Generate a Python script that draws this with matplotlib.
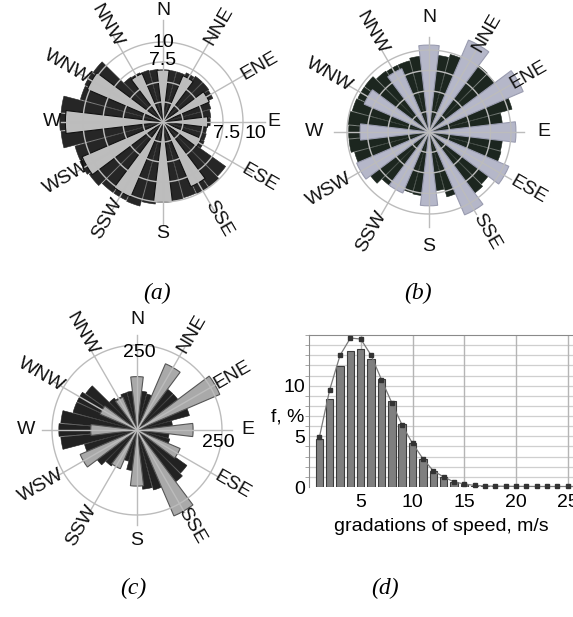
import numpy as np
import matplotlib
matplotlib.use("Agg")
import matplotlib.pyplot as plt

plt.rcParams['font.family'] = ['Liberation Sans', 'DejaVu Sans']

# 36 sectors of 10 degrees for the dark bars, 12 directions of 30 degrees for the light bars
sectors = np.arange(0, 360, 10)
names = ['N', 'NNE', 'ENE', 'E', 'ESE', 'SSE', 'S', 'SSW', 'WSW', 'W', 'WNW', 'NNW']
main_dirs = np.arange(0, 360, 30)

# (a)
a_dark = [6.4, 6.5, 6.5, 6.8, 7.0, 7.0, 6.9, 6.2, 6.0, 5.9, 5.5, 5.6,
          5.7, 9.6, 9.9, 9.9, 9.8, 9.9, 10.0, 10.3, 10.9, 10.8, 10.8, 11.3,
          11.5, 11.4, 12.8, 12.9, 12.8, 10.7, 10.8, 10.7, 6.9, 6.8, 6.7, 6.6]
a_light = [6.5, 6.3, 6.3, 5.6, 5.2, 8.8, 10.0, 10.2, 11.0, 12.2, 10.3, 6.6]

# (b)
b_dark = [9.5, 9.4, 9.8, 10.0, 10.1, 10.0, 10.2, 10.5, 9.0, 9.2, 9.0, 9.1,
          9.3, 9.0, 9.3, 9.0, 8.2, 7.2, 7.5, 7.8, 7.7, 7.5, 8.1, 8.9,
          9.2, 9.4, 9.8, 9.8, 9.9, 9.7, 9.6, 9.6, 9.1, 9.0, 9.0, 9.3]
b_light = [10.6, 12.2, 12.5, 10.6, 10.6, 11.0, 9.0, 8.1, 9.6, 8.4, 8.6, 8.4]

# (c)
c_dark = [120, 115, 110, 150, 150, 150, 170, 160, 105, 110, 95, 100,
          120, 180, 190, 200, 183, 175, 140, 120, 95, 100, 130, 146,
          150, 160, 225, 230, 225, 195, 195, 185, 115, 108, 114, 115]
c_light = [157, 212, 265, 165, 138, 275, 165, 124, 182, 136, 118, 105]

# (d)
speed = np.arange(1, 27)
f_bar = [4.7, 8.7, 11.9, 13.4, 13.6, 12.6, 10.7, 8.5, 6.2, 4.3, 2.8, 1.6, 1.0,
         0.45, 0.25, 0.13, 0.08, 0.05, 0.04, 0.03, 0.02, 0.02, 0.01, 0.01, 0.01, 0.01]
f_line = [4.9, 9.6, 13.0, 14.7, 14.6, 13.0, 10.6, 8.3, 6.1, 4.3, 2.8, 1.6, 1.0,
          0.5, 0.3, 0.15, 0.1, 0.08, 0.07, 0.06, 0.06, 0.05, 0.05, 0.05, 0.05, 0.05]

W, H = 573, 617
fig = plt.figure(figsize=(W / 100, H / 100), dpi=100)
FS = 14


def rose(cx, cy, px_per_unit, rmax, dark, light, rings, line_len, label_r,
         dark_col, light_col, light_edge):
    rad = rmax * px_per_unit
    ax = fig.add_axes([(cx - rad) / W, 1 - (cy + rad) / H, 2 * rad / W, 2 * rad / H],
                      projection='polar')
    ax.set_theta_zero_location('N')
    ax.set_theta_direction(-1)
    ax.set_ylim(0, rmax)
    ax.grid(False)
    ax.set_xticks([])
    ax.set_yticks([])
    ax.spines['polar'].set_visible(False)
    ax.patch.set_alpha(0)

    ax.bar(np.deg2rad(sectors), dark, width=np.deg2rad(9.3), color=dark_col,
           edgecolor=dark_col, linewidth=0.4, zorder=1)
    ax.bar(np.deg2rad(main_dirs), light, width=np.deg2rad(13.5), color=light_col,
           edgecolor=light_edge, linewidth=0.8, zorder=2)

    th = np.linspace(0, 2 * np.pi, 361)
    for r in rings:
        ax.plot(th, np.full_like(th, r), color='#bcbcbc', lw=1.0, zorder=3)
    for d in main_dirs:
        ax.plot([np.deg2rad(d)] * 2, [0, line_len], color='#bcbcbc', lw=1.0, zorder=3)

    for d, nm in zip(main_dirs, names):
        if d % 180 == 0:
            rot = 0
        elif d < 180:
            rot = 90 - d
        else:
            rot = 270 - d
        ax.text(np.deg2rad(d), label_r, nm, rotation=rot, rotation_mode='anchor',
                ha='center', va='center', fontsize=FS, color='#111111')
    return ax


ax_a = rose(163, 122, 8.0, 13.5, a_dark, a_light, [2.5, 5, 7.5, 10], 12.8, 13.9,
            '#262626', '#bdbdbd', '#111111')
ax_a.text(0, 9.9, '10', ha='center', va='center', fontsize=FS)
ax_a.text(0, 7.7, '7.5', ha='center', va='center', fontsize=FS)
ax_a.annotate('7.5', xy=(np.pi / 2, 7.9), xytext=(0, -8), textcoords='offset points',
              ha='center', va='center', fontsize=FS)
ax_a.annotate('10', xy=(np.pi / 2, 11.5), xytext=(0, -8), textcoords='offset points',
              ha='center', va='center', fontsize=FS)

ax_b = rose(429, 132, 8.2, 13.0, b_dark, b_light, [2.5, 5, 7.5, 10], 11.6, 14.0,
            '#1c261f', '#b5b7c9', '#9a9cb0')

ax_c = rose(137, 430, 85 / 250, 300, c_dark, c_light, [250], 280, 325,
            '#222222', '#a9a9a9', '#555555')
ax_c.annotate('250', xy=(0, 228), xytext=(2, 0), textcoords='offset points',
              ha='center', va='center', fontsize=FS)
ax_c.annotate('250', xy=(np.pi / 2, 240), xytext=(0, -9), textcoords='offset points',
              ha='center', va='center', fontsize=FS)

# (d) histogram
x0, x1, y0, y1 = 309, 573, 335, 487
ax_d = fig.add_axes([x0 / W, 1 - y1 / H, (x1 - x0) / W, (y1 - y0) / H])
ax_d.set_xlim(0, 25.5)
ax_d.set_ylim(0, 15)
for yv in range(1, 15):
    ax_d.axhline(yv, color='#cfcfcf', lw=0.9, zorder=0)
for xv in range(5, 26, 5):
    ax_d.axvline(xv, color='#b5b5b5', lw=1.0, zorder=0)
ax_d.bar(speed, f_bar, width=0.72, color='#7f7f7f', edgecolor='#3c3c3c', lw=0.8, zorder=2)
ax_d.plot(speed, f_line, color='#7a7a7a', lw=0.9, marker='s', ms=3.2,
          mfc='#333333', mec='#333333', zorder=3, clip_on=False)
ax_d.set_xticks([5, 10, 15, 20, 25])
ax_d.set_yticks([0, 5, 10])
ax_d.set_yticks(np.arange(0, 15.5, 1), minor=True)
ax_d.tick_params(axis='both', which='major', length=0, labelsize=FS, pad=3)
ax_d.tick_params(axis='y', which='minor', length=3, color='#999999')
ax_d.tick_params(axis='x', which='major', pad=5)
for s in ['left', 'top']:
    ax_d.spines[s].set_color('#8a8a8a')
ax_d.spines['bottom'].set_visible(False)
ax_d.spines['right'].set_visible(False)
ax_d.text(-0.08, 0.46, 'f, %', transform=ax_d.transAxes, ha='center', va='center',
          fontsize=FS)
ax_d.set_xlabel('gradations of speed, m/s', fontsize=FS, labelpad=5)

cap = dict(fontsize=17, style='italic', family='Liberation Serif', ha='center', va='center')
fig.text(157 / W, 1 - 293 / H, '(a)', **cap)
fig.text(418 / W, 1 - 293 / H, '(b)', **cap)
fig.text(133 / W, 1 - 588 / H, '(c)', **cap)
fig.text(385 / W, 1 - 588 / H, '(d)', **cap)

fig.savefig('out.png', dpi=100)
